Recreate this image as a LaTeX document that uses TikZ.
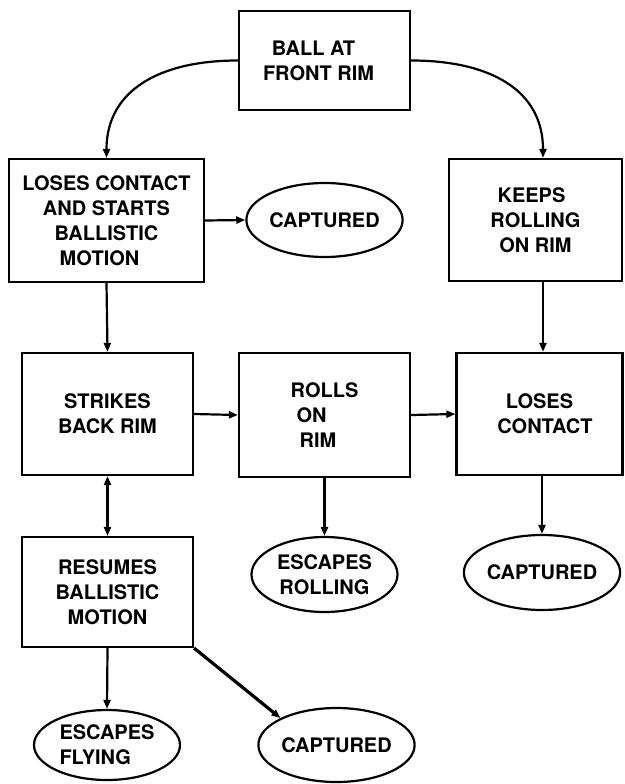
\documentclass[tikz,border=0pt]{standalone}
\usepackage{fontspec}
\setmainfont{TeX Gyre Heros}
\usetikzlibrary{shapes.geometric,arrows.meta}
\begin{document}
\begin{tikzpicture}[x=1pt,y=-1pt,
  >={Triangle[length=9pt,width=7pt]},
  every node/.style={font=\bfseries\fontsize{20}{25}\selectfont, inner sep=0pt},
  box/.style={draw, line width=2.2pt, align=center},
  oval/.style={draw, ellipse, line width=2.2pt, minimum width=146pt, minimum height=74pt, align=center},
  conn/.style={line width=2.2pt, ->},
  dconn/.style={line width=2.2pt, <->},
  thickconn/.style={line width=3.2pt, ->},
]
\fill[white] (0,0) rectangle (624,784);
\useasboundingbox (0,0) rectangle (624,784);

% boxes
\node[box, minimum width=171pt, minimum height=99pt] (top) at (324.5,60.5)
  {BALL AT\hspace*{22pt}\\FRONT RIM\hspace*{12pt}};
\node[box, minimum width=195pt, minimum height=123pt] (lose1) at (106.5,220.5)
  {LOSES CONTACT\\AND STARTS\hspace*{24pt}\\BALLISTIC\hspace*{13pt}\\MOTION\hspace*{14pt}};
\node[box, minimum width=173pt, minimum height=122pt] (keeps) at (535.5,220)
  {KEEPS\hspace*{8pt}\\ROLLING\\ON RIM};
\node[box, minimum width=171pt, minimum height=122pt] (strikes) at (107.5,414)
  {STRIKES\\BACK RIM};
\node[box, minimum width=171pt, minimum height=124pt, align=left] (rolls) at (324.5,415)
  {ROLLS\\\hspace*{6pt}ON\\\hspace*{9pt}RIM};
\node[box, minimum width=166pt, minimum height=122pt] (loses2) at (539.5,414)
  {LOSES\\\hspace*{11pt}CONTACT};
\node[box, minimum width=171pt, minimum height=110pt] (resumes) at (107.5,592)
  {RESUMES\\BALLISTIC\\MOTION};

% ovals
\node[oval] (cap1) at (324.5,220) {CAPTURED};
\node[oval, minimum height=75pt] (escroll) at (324.5,574.5) {ESCAPES\\ROLLING};
\node[oval, minimum height=75pt] (cap2) at (542,572.5) {CAPTURED};
\node[oval, minimum height=70pt, align=left] (escfly) at (107,745) {ESCAPES\\FLYING};
\node[oval] (cap3) at (336.5,745) {CAPTURED};

% connectors
\draw[conn] (top.west) .. controls (160,60.5) and (106.5,90) .. (lose1.north);
\draw[conn] (top.east) .. controls (490,60.5) and (543,90) .. ([xshift=7.5pt]keeps.north);
\draw[conn] (lose1.east) -- (cap1.west);
\draw[conn] (lose1.south) -- (strikes.north);
\draw[conn] ([xshift=7.5pt]keeps.south) -- ([xshift=3.5pt]loses2.north);
\draw[conn] (strikes.east) -- (rolls.west);
\draw[conn] (rolls.east) -- (loses2.west);
\draw[conn] (rolls.south) -- (escroll.north);
\draw[conn] ([xshift=2.5pt]loses2.south) -- (cap2.north);
\draw[dconn] (strikes.south) -- (resumes.north);
\draw[conn] (resumes.south) -- (escfly.north);
\draw[thickconn] (resumes.south east) -- (cap3.north west);
\end{tikzpicture}
\end{document}
